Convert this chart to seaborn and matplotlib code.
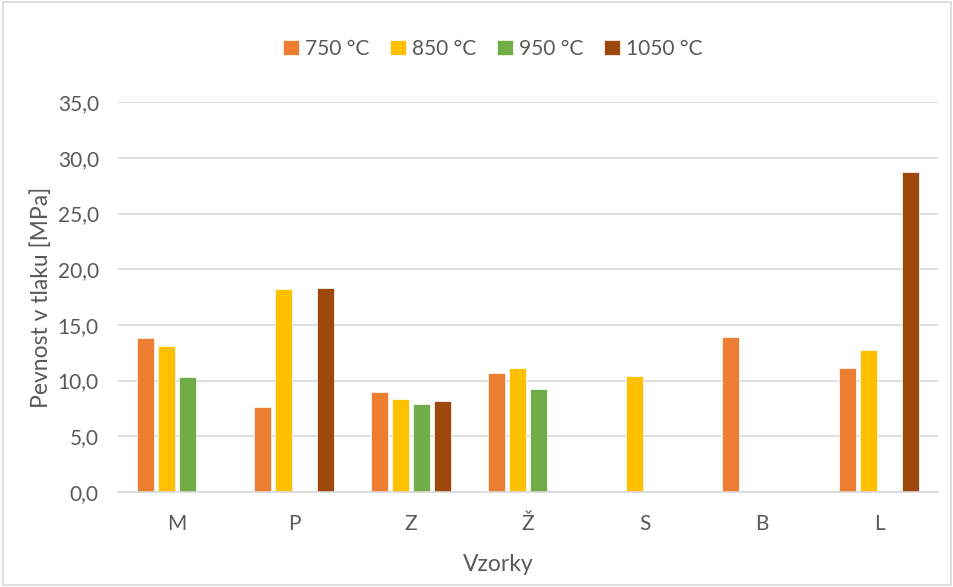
import numpy as np
import pandas as pd
import matplotlib
matplotlib.use("Agg")
import matplotlib.pyplot as plt
from matplotlib.patches import Rectangle
from matplotlib.ticker import FuncFormatter
import seaborn as sns

# Compressive strength per sample and firing temperature
samples = ["M", "P", "Z", "Ž", "S", "B", "L"]
temperatures = ["750 °C", "850 °C", "950 °C", "1050 °C"]
t750 = [13.8, 7.6, 9.0, 10.7, np.nan, 13.9, 11.1]
t850 = [13.1, 18.2, 8.3, 11.1, 10.4, np.nan, 12.7]
t950 = [10.3, np.nan, 7.9, 9.2, np.nan, np.nan, np.nan]
t1050 = [np.nan, 18.3, 8.2, np.nan, np.nan, np.nan, 28.7]
colors = ["#ED7D31", "#FFC000", "#70AD47", "#9E480E"]

rows = []
for temp, vals in zip(temperatures, [t750, t850, t950, t1050]):
    for s, v in zip(samples, vals):
        rows.append({"Vzorky": s, "Teplota": temp, "Pevnost": v})
df = pd.DataFrame(rows)

sns.set_theme(style="white")
plt.rcParams["font.family"] = ["Lato", "DejaVu Sans"]
text_color = "#595959"
grid_color = "#D9D9D9"

fig = plt.figure(figsize=(9.54, 5.87), dpi=100)
ax = fig.add_axes([0.124, 0.162, 0.859, 0.664])

sns.barplot(data=df, x="Vzorky", y="Pevnost", hue="Teplota",
            order=samples, hue_order=temperatures, palette=colors,
            width=0.72, gap=0.19, edgecolor="white", linewidth=0.5,
            saturation=1, errorbar=None, ax=ax)

ax.set_ylim(0, 35)
ax.set_yticks(np.arange(0, 36, 5))
ax.yaxis.set_major_formatter(FuncFormatter(lambda v, _: f"{v:.1f}".replace(".", ",")))
ax.set_xlim(-0.5, len(samples) - 0.5)
ax.grid(axis="y", color=grid_color, linewidth=1.2)
ax.set_axisbelow(True)
for side in ["top", "right", "left"]:
    ax.spines[side].set_visible(False)
ax.spines["bottom"].set_color(grid_color)
ax.spines["bottom"].set_linewidth(1.2)
ax.tick_params(axis="both", length=0, labelsize=15, colors=text_color)
ax.tick_params(axis="x", pad=16)
ax.tick_params(axis="y", pad=14)

ax.set_xlabel("Vzorky", fontsize=16.5, color=text_color)
ax.set_ylabel("Pevnost v tlaku [MPa]", fontsize=16.5, color=text_color)
ax.xaxis.set_label_coords((498 - 118) / 820, (492.7 - 565) / 390.7)
ax.xaxis.label.set_verticalalignment("center")
ax.yaxis.set_label_coords((41 - 118) / 820, 0.5)
ax.yaxis.label.set_verticalalignment("center")

handles, labels = ax.get_legend_handles_labels()
ax.legend_.remove()
fig.legend(handles, labels, loc="center", bbox_to_anchor=(493 / 954, 1 - 49 / 587), ncol=4,
           frameon=False, fontsize=15, labelcolor=text_color,
           handlelength=0.75, handleheight=0.75, handletextpad=0.3, columnspacing=1.0)

fig.patches.append(Rectangle((0.003, 0.003), 0.994, 0.994, transform=fig.transFigure,
                             fill=False, edgecolor=grid_color, linewidth=1.2))

fig.savefig("out.png", dpi=100, facecolor="white")
